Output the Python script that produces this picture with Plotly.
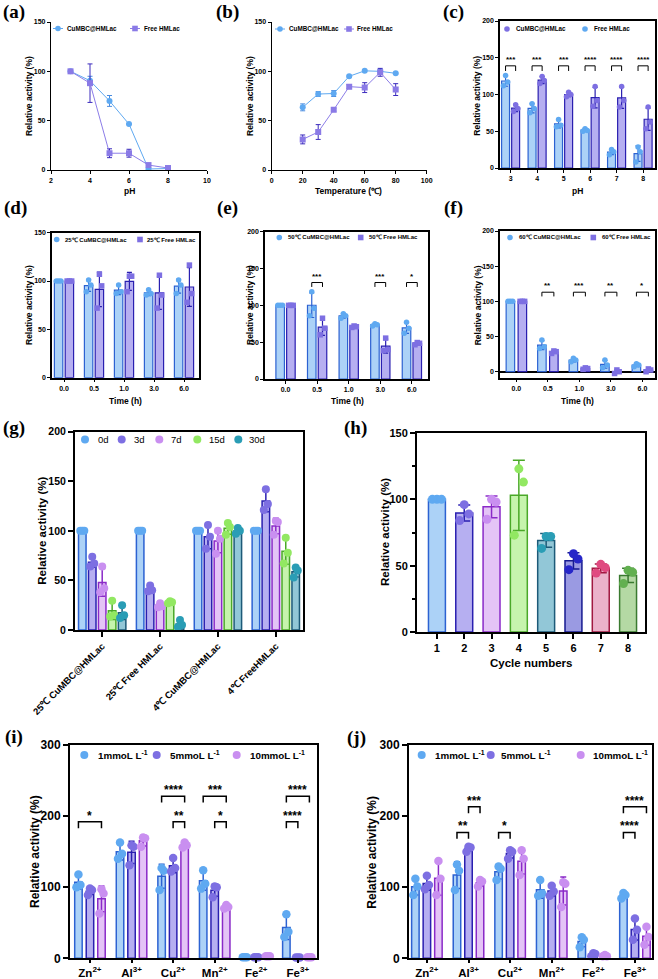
import numpy as np
import plotly.graph_objects as go

W, H = 658, 979
SANS = "Liberation Sans, Arial, sans-serif"
SERIF = "Liberation Serif, Times New Roman, serif"

# ---------------- data ----------------
# (a) pH profile
ph = [3, 4, 5, 6, 7, 8]
a_cu = [100, 90.5, 70, 46.5, 1, 1.5]
a_cu_sd = [0.5, 4.5, 5.5, 0.5, 0.5, 0.5]
a_free = [100, 88, 17, 17, 5, 2]
a_free_sd = [0.5, 19.5, 4.5, 4, 1, 0.5]

# (b) temperature profile
temps = [20, 30, 40, 50, 60, 70, 80]
b_cu = [63.5, 77, 77.5, 95, 100.5, 100, 98]
b_cu_sd = [3.5, 2.5, 3, 1, 1, 2, 1]
b_free = [31, 38.5, 61, 84.5, 83.5, 99, 81.5]
b_free_sd = [4.5, 7.5, 1.5, 2, 5, 4, 6]

# (c) pH stability, replicate points
c_ph = ["3", "4", "5", "6", "7", "8"]
c_free_pts = [[126, 117, 112], [87.5, 81, 75], [66, 58, 56], [53.5, 51, 50], [25, 22, 18], [28.5, 22, 8]]
c_cu_pts = [[86, 81, 77], [124.5, 119, 115], [103, 100, 97], [111, 92, 84], [111, 92, 83], [83, 62.5, 53.5]]
c_sig = ["***", "***", "***", "****", "****", "****"]

# (d)(e)(f) thermal stability
times = ["0.0", "0.5", "1.0", "3.0", "6.0"]
d_cu_pts = [[100, 100, 100], [101, 96, 89], [96, 89, 87], [91, 87, 85.5], [101, 96, 87]]
d_free_pts = [[100, 100, 100], [107, 95, 72], [105, 105, 89], [106, 85.5, 72], [116.5, 87, 78]]
e_cu_pts = [[100, 100, 100], [118.5, 96, 86], [88.5, 86, 82.5], [75, 73.5, 72], [77, 69, 62]]
e_free_pts = [[100, 100, 100], [82.5, 69, 60], [72, 71, 70], [55.5, 40, 38.5], [49.5, 48.5, 46.5]]
e_sig = [(1, "***"), (3, "***"), (4, "*")]
f_cu_pts = [[100, 100, 100], [45, 35.5, 33], [19, 16.5, 14], [16.5, 9.5, 5.5], [11.5, 9.5, 7]]
f_free_pts = [[100, 100, 100], [29.5, 28.5, 26], [5.5, 4.5, 3.5], [2.5, 0, -2.5], [4, 2.5, 0]]
f_sig = [(1, "**"), (2, "***"), (3, "**"), (4, "*")]

# (g) storage stability
g_groups = ["25℃ CuMBC@HMLac", "25℃ Free HMLac", "4℃ CuMBC@HMLac", "4℃ FreeHMLac"]
g_ages = ["0d", "3d", "7d", "15d", "30d"]
g_0d = [[100, 100, 100], [100, 100, 100], [100, 100, 100], [100, 100, 100]]
g_3d = [[74, 67, 64], [45, 40, 39], [106, 94, 82], [142, 127, 121]]
g_7d = [[64, 42, 38], [27, 24, 23], [100, 92, 77], [110, 109, 96]]
g_15d = [[29.5, 15, 13.5], [29, 28, 27], [108, 104, 96], [93, 78, 67]]
g_30d = [[25, 15, 12], [10, 5, 3], [103, 100, 97], [63, 60, 53]]

# (h) reusability
cycles = [1, 2, 3, 4, 5, 6, 7, 8]
h_pts = [[100, 100, 100], [96, 89, 84], [100, 98, 85], [123, 113, 73],
         [72, 72, 63], [59, 55, 47], [51, 48.5, 44.5], [46.5, 45, 36.5]]

# (i)(j) metal ions
ions = ["Zn<sup>2+</sup>", "Al<sup>3+</sup>", "Cu<sup>2+</sup>", "Mn<sup>2+</sup>", "Fe<sup>2+</sup>", "Fe<sup>3+</sup>"]
concs = ["1mmoL L<sup>-1</sup>", "5mmoL L<sup>-1</sup>", "10mmoL L<sup>-1</sup>"]
i_1 = [[118, 103, 100], [163, 147, 140], [127, 123, 96], [124, 105, 98], [1.5, 1.5, 1.5], [62, 37.5, 30]]
i_5 = [[98, 96, 89], [159, 157, 131], [141, 127, 122], [101, 100, 86], [1.5, 1.5, 1.5], [1, 1, 1]]
i_10 = [[97, 91, 63], [170, 169, 157], [163, 159, 156], [75, 72, 70], [3, 3, 3], [1.5, 1.5, 1.5]]
i_sig = [(0, 0, 2, 192, "*"), (2, 0, 2, 228, "****"), (2, 1, 2, 192, "**"),
         (3, 0, 2, 228, "***"), (3, 1, 2, 192, "*"), (5, 0, 2, 228, "****"), (5, 0, 1, 192, "****")]
j_1 = [[112, 101, 89], [132, 123, 96], [129, 126, 110], [110, 91, 88], [29.5, 26, 15.5], [92, 89, 84]]
j_5 = [[116, 103, 97], [157, 156, 150], [152, 150, 140], [102, 94, 88], [7, 6, 3], [56, 40, 26]]
j_10 = [[137, 112, 89], [110, 108, 101], [152, 140, 117], [107, 105, 72], [4.5, 3, 3], [44.5, 30, 19]]
j_sig = [(1, 0, 1, 177, "**"), (1, 1, 2, 213, "***"), (2, 0, 1, 177, "*"),
         (5, 0, 2, 213, "****"), (5, 0, 1, 177, "****")]

# ---------------- colours ----------------
BLUE = dict(pt="#5fa9f1", fill="#acd2f7", edge="#2c62d2")
PURP = dict(pt="#7d6fe2", fill="#b6aff1", edge="#2a1fb0")
VIOL = dict(pt="#c98ff0", fill="#e4c4f6", edge="#8a2ac8")
GREEN = dict(pt="#92e862", fill="#c6f4ad", edge="#4aa828")
TEAL = dict(pt="#2a9db5", fill="#92c7d7", edge="#1d5a78")
NAVY = dict(pt="#2626c8", fill="#9a9ae2", edge="#161a90")
ROSE = dict(pt="#e04a80", fill="#ebb2ca", edge="#a01840")
SAGE = dict(pt="#62b050", fill="#b4d9a4", edge="#3a7a30")


def px(x):
    return x / W


def py(y):
    return 1 - y / H


def axref(n):
    return ("x", "y") if n == 1 else (f"x{n}", f"y{n}")


def setup_axes(fig, n, box, xr, yr, framed=True, lw=1.5, tsize=7, ticklen=3,
               xdtick=None, xtickvals=None, xticktext=None, ydtick=50,
               tickangle=0, xtsize=None, xticklen=None, minor=None, zeroline=False):
    x0, x1, y0, y1 = box
    s = "" if n == 1 else str(n)
    font = dict(family=SANS, size=tsize, color="black", weight="bold")
    xa = dict(domain=[px(x0), px(x1)], anchor="y" + s, range=xr, showline=True,
              linecolor="black", linewidth=lw, mirror=framed, ticks="outside",
              ticklen=xticklen or ticklen, tickwidth=lw * 0.8, tickcolor="black",
              automargin=False, showgrid=False, zeroline=False, tickangle=tickangle,
              tickfont=dict(font, size=xtsize or tsize))
    if xtickvals is not None:
        xa.update(tickmode="array", tickvals=xtickvals, ticktext=xticktext)
    else:
        xa.update(dtick=xdtick, tick0=0)
    ya = dict(domain=[py(y1), py(y0)], anchor="x" + s, range=yr, showline=True,
              linecolor="black", linewidth=lw, mirror=framed, ticks="outside",
              ticklen=ticklen, tickwidth=lw * 0.8, tickcolor="black", automargin=False,
              showgrid=False, dtick=ydtick, tick0=0, tickfont=font,
              zeroline=zeroline, zerolinecolor="black", zerolinewidth=lw)
    if minor:
        ya["minor"] = dict(tickvals=minor, ticks="outside", ticklen=ticklen * 0.6,
                           tickwidth=lw * 0.8, tickcolor="black", showgrid=False)
    fig.update_layout({"xaxis" + s: xa, "yaxis" + s: ya})


def bar_series(fig, n, xs, pts, bw, col, sym="circle", ms=5.5, lw=1.2, ew=2.5):
    means = [float(np.mean(p)) for p in pts]
    sds = [float(np.std(p, ddof=1)) for p in pts]
    xa, ya = axref(n)
    fig.add_trace(go.Bar(x=xs, y=means, width=bw,
                         marker=dict(color=col["fill"], line=dict(color=col["edge"], width=lw)),
                         error_y=dict(type="data", array=sds, color=col["edge"], thickness=lw, width=ew),
                         xaxis=xa, yaxis=ya, showlegend=False, hoverinfo="skip"))
    jit = [0, 0.27, -0.27]
    xx, yy = [], []
    for x, p in zip(xs, pts):
        for k, v in enumerate(p):
            xx.append(x + jit[k % 3] * bw)
            yy.append(v)
    fig.add_trace(go.Scatter(x=xx, y=yy, mode="markers", cliponaxis=False,
                             marker=dict(color=col["pt"], size=ms, symbol=sym, line=dict(width=0)),
                             xaxis=xa, yaxis=ya, showlegend=False, hoverinfo="skip"))


def brackets(fig, n, items, centers, offs, drop, fsize, lw=1.0, yshift=0):
    xa, ya = axref(n)
    for g, s1, s2, lvl, lab in items:
        x1 = centers[g] + offs[s1]
        x2 = centers[g] + offs[s2]
        fig.add_trace(go.Scatter(x=[x1, x1, x2, x2], y=[lvl - drop, lvl, lvl, lvl - drop],
                                 mode="lines", line=dict(color="black", width=lw),
                                 xaxis=xa, yaxis=ya, showlegend=False, hoverinfo="skip"))
        fig.add_annotation(x=(x1 + x2) / 2, y=lvl, xref=xa, yref=ya, text=lab,
                           showarrow=False, yanchor="bottom", yshift=yshift,
                           font=dict(family=SANS, size=fsize, color="black", weight="bold"))


def legend_item(fig, cx, cy, color, text, tx, fsize, r=2.8, sym="circle",
                line=False, bold=True):
    if line:
        fig.add_shape(type="line", xref="paper", yref="paper", x0=px(cx - 5), x1=px(cx + 5),
                      y0=py(cy), y1=py(cy), line=dict(color=color, width=1))
    fig.add_shape(type="circle" if sym == "circle" else "rect", xref="paper", yref="paper",
                  x0=px(cx - r), x1=px(cx + r), y0=py(cy + r), y1=py(cy - r),
                  fillcolor=color, line=dict(width=0))
    fig.add_annotation(x=px(tx), y=py(cy), xref="paper", yref="paper", text=text,
                       showarrow=False, xanchor="left", yanchor="middle",
                       font=dict(family=SANS, size=fsize, color="black",
                                 weight="bold" if bold else "normal"))


def label(fig, x, y, text, size, angle=0, family=SANS):
    fig.add_annotation(x=px(x), y=py(y), xref="paper", yref="paper", text=text,
                       showarrow=False, textangle=angle, xanchor="center", yanchor="middle",
                       font=dict(family=family, size=size, color="black", weight="bold"))


fig = go.Figure()

# ---------------- (a) ----------------
setup_axes(fig, 1, (51, 207, 22, 170), [2, 10], [0, 150], framed=False, lw=1.3, xdtick=2)
fig.add_trace(go.Scatter(x=ph, y=a_cu, mode="lines+markers", xaxis="x", yaxis="y",
                         line=dict(color="#5fa9f1", width=1),
                         marker=dict(color="#5fa9f1", size=6, symbol="circle"),
                         error_y=dict(type="data", array=a_cu_sd, color="#4a8ce0", thickness=1, width=2.5),
                         showlegend=False))
fig.add_trace(go.Scatter(x=ph, y=a_free, mode="lines+markers", xaxis="x", yaxis="y",
                         line=dict(color="#8c7de8", width=1),
                         marker=dict(color="#8a7ae6", size=6, symbol="square"),
                         error_y=dict(type="data", array=a_free_sd, color="#3b2bbd", thickness=1, width=2.5),
                         showlegend=False))
legend_item(fig, 58, 28.5, "#5fa9f1", "CuMBC@HMLac", 65, 6.3, line=True)
legend_item(fig, 135, 28.5, "#8a7ae6", "Free HMLac", 142, 6.3, sym="square", line=True)

# ---------------- (b) ----------------
setup_axes(fig, 2, (271.7, 426.7, 22, 170), [0, 100], [0, 150], framed=False, lw=1.3, xdtick=20)
fig.add_trace(go.Scatter(x=temps, y=b_cu, mode="lines+markers", xaxis="x2", yaxis="y2",
                         line=dict(color="#5fa9f1", width=1),
                         marker=dict(color="#5fa9f1", size=6, symbol="circle"),
                         error_y=dict(type="data", array=b_cu_sd, color="#4a8ce0", thickness=1, width=2.5),
                         showlegend=False))
fig.add_trace(go.Scatter(x=temps, y=b_free, mode="lines+markers", xaxis="x2", yaxis="y2",
                         line=dict(color="#8c7de8", width=1),
                         marker=dict(color="#8a7ae6", size=6, symbol="square"),
                         error_y=dict(type="data", array=b_free_sd, color="#3b2bbd", thickness=1, width=2.5),
                         showlegend=False))
legend_item(fig, 280, 29, "#5fa9f1", "CuMBC@HMLac", 287, 6.3, line=True)
legend_item(fig, 349, 29, "#8a7ae6", "Free HMLac", 355, 6.3, sym="square", line=True)

# ---------------- (c) ----------------
cpos = list(range(len(c_ph)))
setup_axes(fig, 3, (500, 655, 21, 168), [-0.4, 5.45], [0, 200], xtickvals=cpos, xticktext=c_ph)
bar_series(fig, 3, [c - 0.19 for c in cpos], c_free_pts, 0.3, BLUE)
bar_series(fig, 3, [c + 0.19 for c in cpos], c_cu_pts, 0.3, PURP)
brackets(fig, 3, [(k, 0, 1, 139, s) for k, s in enumerate(c_sig)], cpos, [-0.19, 0.19], 7, 8)
legend_item(fig, 507, 29, PURP["pt"], "CuMBC@HMLac", 514, 6.3)
legend_item(fig, 585, 29, BLUE["pt"], "Free HMLac", 592, 6.3)

# ---------------- (d)(e)(f) ----------------
tpos = list(range(len(times)))
setup_axes(fig, 4, (52, 199, 232.7, 377.7), [-0.4, 4.5], [0, 150], xtickvals=tpos, xticktext=times)
bar_series(fig, 4, [t - 0.18 for t in tpos], d_cu_pts, 0.28, BLUE)
bar_series(fig, 4, [t + 0.18 for t in tpos], d_free_pts, 0.28, PURP, sym="square")
legend_item(fig, 56.7, 239.5, BLUE["pt"], "25℃ CuMBC@HMLac", 62.5, 6)
legend_item(fig, 140, 239.5, PURP["pt"], "25℃ Free HMLac", 145, 6, sym="square")

setup_axes(fig, 5, (265, 428, 231.7, 379), [-0.65, 4.51], [0, 200], xtickvals=tpos, xticktext=times)
bar_series(fig, 5, [t - 0.17 for t in tpos], e_cu_pts, 0.27, BLUE)
bar_series(fig, 5, [t + 0.17 for t in tpos], e_free_pts, 0.27, PURP, sym="square")
brackets(fig, 5, [(k, 0, 1, 131, s) for k, s in e_sig], tpos, [-0.17, 0.17], 6, 8)
legend_item(fig, 279.3, 237.5, BLUE["pt"], "50℃ CuMBC@HMLac", 285.5, 6)
legend_item(fig, 360.7, 237.5, PURP["pt"], "50℃ Free HMLac", 367, 6, sym="square")

setup_axes(fig, 6, (500, 655, 231, 377.7), [-0.52, 4.4], [-8.5, 200], xtickvals=tpos,
           xticktext=times, zeroline=True)
fig.update_layout(yaxis6=dict(tickvals=[0, 50, 100, 150, 200]))
bar_series(fig, 6, [t - 0.19 for t in tpos], f_cu_pts, 0.27, BLUE)
bar_series(fig, 6, [t + 0.19 for t in tpos], f_free_pts, 0.27, PURP, sym="square")
brackets(fig, 6, [(k, 0, 1, 113, s) for k, s in f_sig], tpos, [-0.19, 0.19], 6, 8)
legend_item(fig, 510, 237.5, BLUE["pt"], "60℃ CuMBC@HMLac", 517, 6)
legend_item(fig, 593.3, 237.5, PURP["pt"], "60℃ Free HMLac", 599.5, 6, sym="square")

# ---------------- (g) ----------------
gpos = list(range(len(g_groups)))
setup_axes(fig, 7, (75, 303, 431.7, 630), [-0.47, 3.47], [0, 200], lw=2, tsize=10.5, ticklen=5,
           xtickvals=gpos, xticktext=g_groups, tickangle=-45, xtsize=9.5)
g_series = [g_0d, g_3d, g_7d, g_15d, g_30d]
g_cols = [BLUE, PURP, VIOL, GREEN, TEAL]
g_offs = [-0.344, -0.172, 0, 0.172, 0.344]
for pts, col, off in zip(g_series, g_cols, g_offs):
    bar_series(fig, 7, [g + off for g in gpos], pts, 0.13, col, ms=8, lw=1.5, ew=3)
for lab, col, cx, tx in zip(g_ages, g_cols, [85, 121.7, 159.3, 197.3, 238.3], [96, 132, 168.5, 207, 247]):
    legend_item(fig, cx, 439.5, col["pt"], lab, tx, 9.5, r=4, bold=False)

# ---------------- (h) ----------------
h_cols = [BLUE, PURP, VIOL, GREEN, TEAL, NAVY, ROSE, SAGE]
setup_axes(fig, 8, (417, 645, 433, 632), [0.27, 8.62], [0, 150], lw=2, tsize=11, ticklen=5,
           xtickvals=cycles, xticktext=[str(c) for c in cycles], minor=[25, 75, 125])
for c, pts, col in zip(cycles, h_pts, h_cols):
    bar_series(fig, 8, [c], [pts], 0.62, col, ms=9, lw=1.5, ew=6)

# ---------------- (i)(j) ----------------
ipos = list(range(len(ions)))
c_offs = [-0.277, 0, 0.277]
c_cols = [BLUE, PURP, VIOL]
for n, box, xr, series, sig, lx in [
        (9, (70, 317, 745, 958.3), [-0.48, 5.46], [i_1, i_5, i_10], i_sig,
         [(84.3, 96), (156.7, 168), (236.7, 248)]),
        (10, (409, 652, 745, 958.3), [-0.43, 5.41], [j_1, j_5, j_10], j_sig,
         [(421.7, 433), (490.7, 499), (580.7, 591)])]:
    setup_axes(fig, n, box, xr, [0, 300], lw=2, tsize=12, ticklen=5, xticklen=3,
               xtickvals=ipos, xticktext=ions, ydtick=100, xtsize=11.5)
    for pts, col, off in zip(series, c_cols, c_offs):
        bar_series(fig, n, [g + off for g in ipos], pts, 0.18, col, ms=8.5, lw=1.5, ew=3)
    brackets(fig, n, sig, ipos, c_offs, 9, 12, lw=1.5, yshift=-3)
    for lab, col, (cx, tx) in zip(concs, c_cols, lx):
        legend_item(fig, cx, 755, col["pt"], lab, tx, 9.8, r=4)

# ---------------- axis titles ----------------
YT = "Relative activity (%)"
for x, y in [(29, 96), (250, 96), (476.7, 96), (29, 305), (250, 305), (478.3, 305)]:
    label(fig, x, y, YT, 8.5, angle=-90)
label(fig, 41.7, 531, YT, 11.5, angle=-90)
label(fig, 385, 532, YT, 11.5, angle=-90)
label(fig, 35, 852, YT, 12, angle=-90)
label(fig, 371.7, 852, YT, 12, angle=-90)
label(fig, 129, 191, "pH", 8.5)
label(fig, 349, 191, "Temperature (℃)", 8.5)
label(fig, 577, 191, "pH", 8.5)
for x in [125, 347, 577]:
    label(fig, x, 401, "Time (h)", 8.5)
label(fig, 531, 663, "Cycle numbers", 11.5)

# ---------------- panel letters ----------------
for t, x, y in [("(a)", 14, 12), ("(b)", 227, 12), ("(c)", 453, 12),
                ("(d)", 15, 208), ("(e)", 227, 208), ("(f)", 453, 208),
                ("(g)", 14, 428), ("(h)", 355, 428), ("(i)", 14, 737), ("(j)", 357, 738)]:
    label(fig, x, y, t, 19, family=SERIF)

fig.update_layout(width=W, height=H, margin=dict(l=0, r=0, t=0, b=0, autoexpand=False),
                  paper_bgcolor="white", plot_bgcolor="white", barmode="overlay",
                  showlegend=False)
# the page body has a default 8px margin; drop it so the figure fills the window
fig.write_html("out.html", config={"displayModeBar": False},
               post_script="document.body.style.margin='0';document.body.style.overflow='hidden';")
